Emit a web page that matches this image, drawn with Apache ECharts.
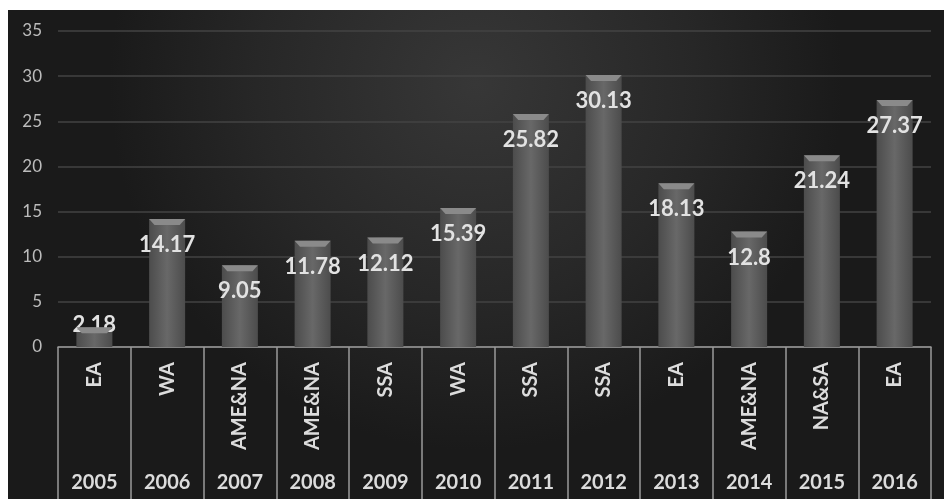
<!DOCTYPE html>
<html>
<head>
<meta charset="utf-8">
<script src="https://cdn.jsdelivr.net/npm/echarts@6/dist/echarts.min.js"></script>
<style>
  html, body { margin: 0; padding: 0; background: #fff; }
  #chart { width: 944px; height: 499px; }
</style>
</head>
<body>
<div id="chart"></div>
<script>
const years = ['2005', '2006', '2007', '2008', '2009', '2010', '2011', '2012', '2013', '2014', '2015', '2016'];
const regions = ['EA', 'WA', 'AME&NA', 'AME&NA', 'SSA', 'WA', 'SSA', 'SSA', 'EA', 'AME&NA', 'NA&SA', 'EA'];
const values = [2.18, 14.17, 9.05, 11.78, 12.12, 15.39, 25.82, 30.13, 18.13, 12.8, 21.24, 27.37];
const yTicks = [0, 5, 10, 15, 20, 25, 30, 35];

const chart = echarts.init(document.getElementById('chart'));
const font = 'Lato, "Open Sans", sans-serif';

// first bar is too short for an inside label, so it sits across the top
const barData = values.map((v, i) => i === 0
  ? { value: v, label: { position: 'top', distance: -9 } }
  : v);

const option = {
  animation: false,
  backgroundColor: '#ffffff',
  graphic: [{
    type: 'rect',
    z: -10,
    shape: { x: 8, y: 10, width: 936, height: 489 },
    style: {
      fill: new echarts.graphic.RadialGradient(0.5, 0.15, 0.75, [
        { offset: 0, color: '#373737' },
        { offset: 0.6, color: '#272727' },
        { offset: 1, color: '#1a1a1a' }
      ])
    }
  }],
  grid: { left: 58, right: 13, top: 31, bottom: 152 },
  xAxis: [{
    type: 'category',
    data: regions,
    position: 'bottom',
    axisLine: { lineStyle: { color: '#9a9a9a', width: 1.5 } },
    axisTick: { show: true, interval: 0, length: 155, lineStyle: { color: '#9a9a9a', width: 1.5 } },
    axisLabel: {
      interval: 0, rotate: 90, margin: 15,
      color: '#dcdcdc', fontFamily: font, fontWeight: 'bold', fontSize: 20
    }
  }, {
    type: 'category',
    data: years,
    position: 'bottom',
    axisLine: { show: false },
    axisTick: { show: false },
    axisLabel: {
      interval: 0, margin: 126,
      color: '#dcdcdc', fontFamily: font, fontWeight: 'bold', fontSize: 20
    }
  }],
  yAxis: {
    type: 'value',
    min: yTicks[0],
    max: yTicks[yTicks.length - 1],
    interval: 5,
    axisLine: { show: false },
    axisTick: { show: false },
    axisLabel: { margin: 16, color: '#bcbcbc', fontFamily: font, fontSize: 17 },
    splitLine: { lineStyle: { color: '#434343', width: 1.5 } }
  },
  series: [{
    type: 'bar',
    xAxisIndex: 0,
    data: barData,
    barWidth: 36,
    itemStyle: {
      color: new echarts.graphic.LinearGradient(0, 0, 1, 0, [
        { offset: 0, color: '#4c4c4c' },
        { offset: 0.5, color: '#686868' },
        { offset: 1, color: '#4c4c4c' }
      ])
    },
    label: {
      show: true,
      position: 'insideTop',
      distance: 15,
      color: '#e2e2e2',
      fontFamily: font,
      fontWeight: 'bold',
      fontSize: 22
    },
    z: 2
  }, {
    // bevelled cap on top of each bar
    type: 'pictorialBar',
    xAxisIndex: 0,
    data: values,
    symbol: 'path://M0,0 L20,0 L17,2 L3,2 Z',
    symbolSize: [36, 6],
    symbolPosition: 'end',
    symbolOffset: [0, 0],
    itemStyle: { color: '#8a8a8a' },
    silent: true,
    z: 3
  }]
};

chart.setOption(option);
</script>
</body>
</html>
